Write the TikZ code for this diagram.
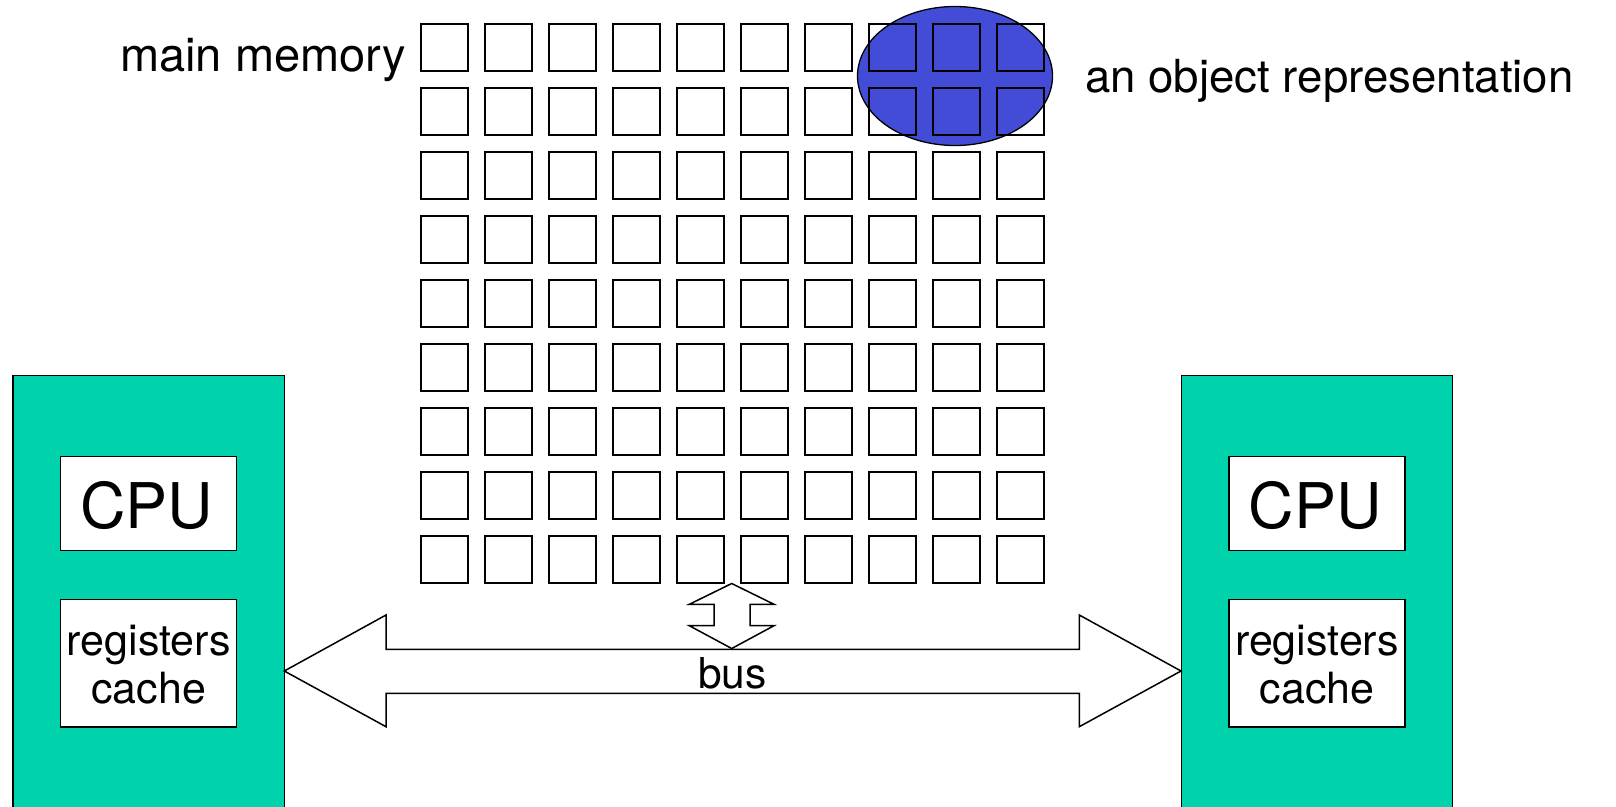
\documentclass[tikz,border=0pt]{standalone}
\usepackage{fontspec}
\setmainfont{TeX Gyre Heros}
\usetikzlibrary{shapes.geometric}
\definecolor{teal1}{RGB}{0,210,172}
\definecolor{objblue}{RGB}{67,76,214}
\tikzset{
  cell/.style={draw=black, line width=2pt, fill=none, rectangle, inner sep=0pt, minimum size=47pt},
  obj/.style={draw=black, line width=1.3pt, fill=objblue, ellipse, inner sep=0pt, minimum width=195pt, minimum height=139pt},
  cpubox/.style={draw=black, line width=1.3pt, fill=teal1},
  innerbox/.style={draw=black, line width=1.3pt, fill=white},
  label/.style={inner sep=0pt, font=\fontsize{47}{56}\selectfont},
  objtxt/.style={inner sep=0pt, font=\fontsize{45.6}{54}\selectfont},
  bigtxt/.style={inner sep=0pt, font=\fontsize{63}{72}\selectfont},
  midtxt/.style={inner sep=0pt, align=center, font=\fontsize{43}{48}\selectfont},
  bustxt/.style={inner sep=0pt, font=\fontsize{42.5}{48}\selectfont},
  busarrow/.style={draw=black, line width=1.5pt, fill=white, line join=miter}
}
\begin{document}
\begin{tikzpicture}[x=1pt,y=-1pt]
\useasboundingbox (0,0) rectangle (1616,806);
\clip (0,0) rectangle (1616,806);
% object representation ellipse (under the cells)
\node[obj] (object) at (955,76) {};
% memory grid
\foreach \i in {0,...,9}{
  \foreach \j in {0,...,8}{
    \node[cell] (c-\i-\j) at ({444.5+64*\i},{47.8+64*\j}) {};
  }
}
% labels
\node[label, anchor=base west] (mainmem) at (120,71.7) {main memory};
\node[objtxt, anchor=base west] (objlabel) at (1085,92) {an object representation};
% CPU boxes
\draw[cpubox] (13,375.5) rectangle (284.5,830);
\node[inner sep=0pt, minimum width=271.5pt, minimum height=454.5pt] (lbox) at (148.75,602.75) {};
\draw[cpubox] (1181.5,375.5) rectangle (1452.6,830);
\node[inner sep=0pt, minimum width=271.1pt, minimum height=454.5pt] (rbox) at (1317,602.75) {};
% inner boxes left
\draw[innerbox] (60.5,456.3) rectangle (236.5,550.4);
\node[inner sep=0pt, minimum width=176pt, minimum height=94pt] (lcpu) at (148.5,503.3) {};
\node[bigtxt, anchor=base] (lcputxt) at (146.5,528.3) {CPU};
\draw[innerbox] (60.5,599.6) rectangle (236.5,727.1);
\node[inner sep=0pt, minimum width=176pt, minimum height=127.5pt] (lreg) at (148.5,663.3) {};
\node[midtxt, anchor=base] (lregtxt) at (148.8,655) {registers};
\node[midtxt, anchor=base] (lcachetxt) at (148.8,703.3) {cache};
% inner boxes right
\draw[innerbox] (1228.9,456.3) rectangle (1405.1,550.4);
\node[inner sep=0pt, minimum width=176pt, minimum height=94pt] (rcpu) at (1317,503.3) {};
\node[bigtxt, anchor=base] (rcputxt) at (1315,528.3) {CPU};
\draw[innerbox] (1228.9,599.6) rectangle (1405.1,727.1);
\node[inner sep=0pt, minimum width=176pt, minimum height=127.5pt] (rreg) at (1317,663.3) {};
\node[midtxt, anchor=base] (rregtxt) at (1317,655) {registers};
\node[midtxt, anchor=base] (rcachetxt) at (1317,703.3) {cache};
% bus double arrow
\coordinate (ltip) at (284.3,671);
\coordinate (rtip) at (1181,671);
\draw[busarrow] (ltip) -- (386,615) -- (386,649.3) -- (1079.3,649.3) -- (1079.3,615)
  -- (rtip) -- (1079.3,726.7) -- (1079.3,693.3) -- (386,693.3) -- (386,726.7) -- cycle;
\node[bustxt, anchor=base] (bus) at (732.3,688) {bus};
% small vertical double arrow between memory and bus
\coordinate (vtop) at (731.7,583.5);
\coordinate (vbot) at (731.7,648.5);
\draw[busarrow] (vtop) -- (774,604.3) -- (750,604.3) -- (750,625.7) -- (774,625.7)
  -- (vbot) -- (689.3,625.7) -- (714,625.7) -- (714,604.3) -- (689.3,604.3) -- cycle;
\end{tikzpicture}
\end{document}
